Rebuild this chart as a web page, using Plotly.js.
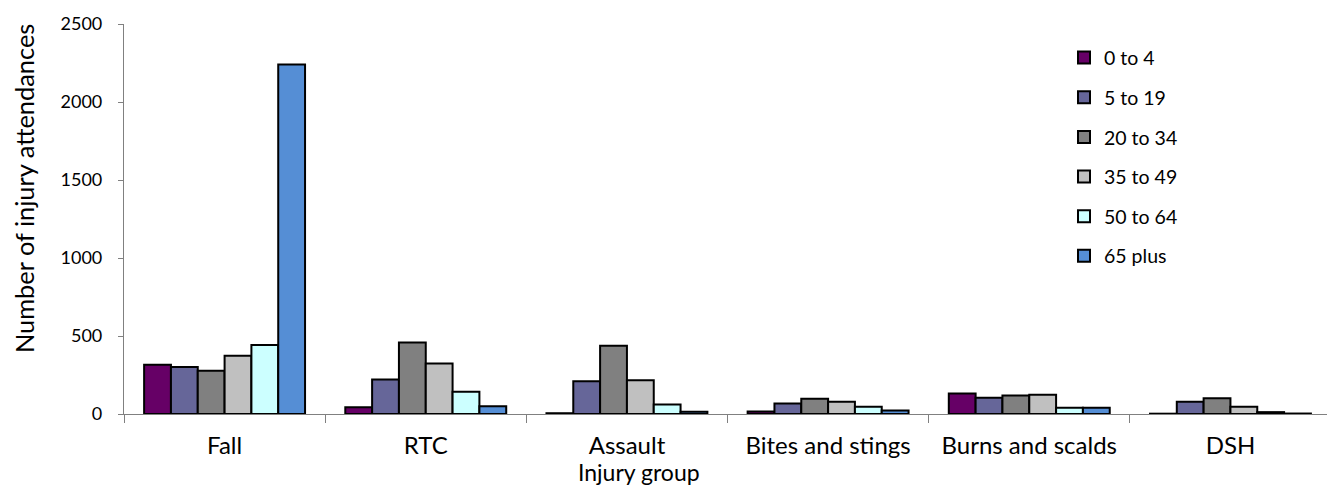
<!DOCTYPE html>
<html>
<head>
<meta charset="utf-8">
<script src="https://cdn.plot.ly/plotly-3.0.1.min.js"></script>
<style>html,body{margin:0;padding:0;background:#fff;}#chart{width:1327px;height:488px;}</style>
</head>
<body>
<div id="chart"></div>
<script>
const categories = ["Fall", "RTC", "Assault", "Bites and stings", "Burns and scalds", "DSH"];
const seriesNames = ["0 to 4", "5 to 19", "20 to 34", "35 to 49", "50 to 64", "65 plus"];
const age0to4   = [316, 44, 5, 16, 131, 2];
const age5to19  = [302, 221, 210, 67, 104, 78];
const age20to34 = [278, 459, 438, 97, 118, 101];
const age35to49 = [374, 323, 216, 78, 123, 46];
const age50to64 = [442, 142, 61, 46, 40, 12];
const age65plus = [2240, 50, 14, 22, 40, 3];
const seriesValues = [age0to4, age5to19, age20to34, age35to49, age50to64, age65plus];
const colors = ["#660066", "#666699", "#808080", "#C0C0C0", "#CCFFFF", "#558ED5"];
const yTicks = [0, 500, 1000, 1500, 2000, 2500];

const FONT = "Lato, 'Open Sans', sans-serif";
const traces = seriesValues.map((vals, i) => ({
  type: "bar",
  name: seriesNames[i],
  x: categories,
  y: vals,
  legendgroup: "g" + i,
  marker: {color: colors[i], line: {color: "#000000", width: 2}},
  hoverinfo: "x+y+name"
}));

const layout = {
  width: 1327, height: 488,
  margin: {l: 124, r: 0, t: 24, b: 73.5, pad: 0},
  paper_bgcolor: "#ffffff", plot_bgcolor: "#ffffff",
  font: {family: FONT, size: 19.5, color: "#000000"},
  barmode: "group", bargap: 0.2, bargroupgap: 0,
  showlegend: true,
  legend: {x: (1064 - 124) / 1203, y: 0.963, xanchor: "left", yanchor: "top",
           font: {family: FONT, size: 19.5, color: "#000"},
           tracegroupgap: 11.3, bgcolor: "rgba(0,0,0,0)", itemwidth: 30},
  xaxis: {
    type: "category", range: [-0.5, 5.48],
    showline: true, linecolor: "#808080", linewidth: 1.2,
    ticks: "outside", tickson: "boundaries", ticklen: 8, tickcolor: "#808080", tickwidth: 1,
    ticklabelstandoff: 10,
    tickfont: {family: FONT, size: 24, color: "#000"},
    showgrid: false, zeroline: false, automargin: false
  },
  yaxis: {
    range: [0, 2500], tickvals: yTicks, ticktext: yTicks.map(String),
    showline: true, linecolor: "#808080", linewidth: 1.2,
    ticks: "outside", ticklen: 5, tickcolor: "#808080",
    ticklabelstandoff: 12,
    tickfont: {family: FONT, size: 18, color: "#000"},
    showgrid: false, zeroline: false, automargin: false
  },
  annotations: [{
    text: "Injury group", xref: "paper", yref: "paper",
    x: (576 - 124) / 1203, y: -(473 - 414.5) / 391, xanchor: "left", yanchor: "middle",
    showarrow: false, font: {family: FONT, size: 23, color: "#000"}
  }, {
    text: "Number of injury attendances", xref: "paper", yref: "paper",
    x: (24 - 124) / 1203, y: (414.5 - 189) / 391, xanchor: "center", yanchor: "middle",
    textangle: -90, showarrow: false, font: {family: FONT, size: 25.4, color: "#000"}
  }]
};

Plotly.newPlot("chart", traces, layout, {displayModeBar: false, responsive: false});
</script>
</body>
</html>
